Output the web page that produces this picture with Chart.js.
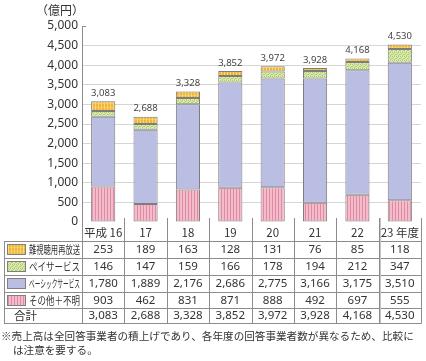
<!DOCTYPE html>
<html>
<head>
<meta charset="utf-8">
<script src="https://cdn.jsdelivr.net/npm/chart.js@4.4.0/dist/chart.umd.min.js"></script>
<style>
  html, body { margin: 0; padding: 0; background: #fff; }
  #wrap { width: 426px; height: 361px; position: relative; }
</style>
</head>
<body>
<div id="wrap"><canvas id="c" width="426" height="361"></canvas></div>
<script>
// ---- data ----
const categories = ['平成 16', '17', '18', '19', '20', '21', '22', '23 年度'];
const seriesNames = ['難視聴用再放送', 'ペイサービス', 'ベーシックサービス', 'その他＋不明'];
const rebroadcast = [253, 189, 163, 128, 131, 76, 85, 118];
const payService = [146, 147, 159, 166, 178, 194, 212, 347];
const basicService = [1780, 1889, 2176, 2686, 2775, 3166, 3175, 3510];
const otherUnknown = [903, 462, 831, 871, 888, 492, 697, 555];
const totals = [3083, 2688, 3328, 3852, 3972, 3928, 4168, 4530];
const totalRowLabel = '合計';
const unitLabel = '（億円）';
const noteLines = ['※売上高は全回答事業者の積上げであり、各年度の回答事業者数が異なるため、比較に', 'は注意を要する。'];

// ---- patterns ----
function makePattern(w, h, draw) {
  const c = document.createElement('canvas');
  c.width = w; c.height = h;
  const g = c.getContext('2d');
  draw(g);
  return g.createPattern(c, 'repeat');
}
const patOrange = makePattern(3, 4, g => {
  g.fillStyle = '#f0b436'; g.fillRect(0, 0, 3, 4);
  g.fillStyle = '#f9d67c'; g.fillRect(2, 0, 1, 4);
  g.fillStyle = '#f5c858'; g.fillRect(0, 3, 2, 1);
});
const patGreen = makePattern(4, 4, g => {
  g.fillStyle = '#dbeaae'; g.fillRect(0, 0, 4, 4);
  g.fillStyle = '#afcc74';
  g.fillRect(0, 0, 1, 1); g.fillRect(2, 0, 1, 1);
  g.fillRect(1, 1, 1, 1); g.fillRect(3, 2, 1, 1);
  g.fillRect(0, 2, 1, 1); g.fillRect(2, 3, 1, 1);
});
const colBlue = '#b9bee2';
const patPink = makePattern(3, 1, g => {
  g.fillStyle = '#f4bccb'; g.fillRect(0, 0, 3, 1);
  g.fillStyle = '#de8ca4'; g.fillRect(2, 0, 1, 1);
});

const seriesValues = [rebroadcast, payService, basicService, otherUnknown];
const seriesFills = [patOrange, patGreen, colBlue, patPink];

const FONT_LAT = '"Noto Sans", "Noto Sans CJK JP", sans-serif';
const FONT_JP = '"Noto Sans CJK JP", "Noto Sans", sans-serif';
const TXT = '#333';
const LINE = '#8c8c8c';

const tablePlugin = {
  id: 'tablePlugin',
  afterDraw(chart) {
    const ctx = chart.ctx;
    const xs = chart.scales.x, ys = chart.scales.y;
    const ca = chart.chartArea;
    const n = categories.length;
    const colW = (ca.right - ca.left) / n;
    const tableLeft = 4;
    const rowY = [241, 258, 275, 292, 308, 323];
    const headerTop = ca.bottom;
    ctx.save();

    // unit label
    ctx.fillStyle = TXT;
    ctx.font = '12px ' + FONT_JP;
    ctx.textAlign = 'right';
    ctx.textBaseline = 'middle';
    ctx.fillText(unitLabel, ca.left + 2, 10);

    // tick at top
    ctx.strokeStyle = LINE;
    ctx.lineWidth = 1;
    ctx.beginPath();
    ctx.moveTo(ca.left, Math.round(ca.top) + 0.5);
    ctx.lineTo(ca.left + 4, Math.round(ca.top) + 0.5);
    ctx.stroke();

    // totals above bars
    ctx.fillStyle = '#444';
    ctx.font = '9.5px ' + FONT_LAT;
    ctx.textAlign = 'center';
    ctx.textBaseline = 'middle';
    for (let i = 0; i < n; i++) {
      ctx.fillText(totals[i].toLocaleString('en-US'), xs.getPixelForValue(i), ys.getPixelForValue(totals[i]) - 8);
    }

    // table lines
    ctx.strokeStyle = LINE;
    ctx.beginPath();
    for (const y of rowY) {
      ctx.moveTo(tableLeft, y + 0.5);
      ctx.lineTo(ca.right + 0.5, y + 0.5);
    }
    ctx.moveTo(tableLeft + 0.5, rowY[0]);
    ctx.lineTo(tableLeft + 0.5, rowY[rowY.length - 1] + 0.5);
    ctx.moveTo(Math.round(ca.left) + 0.5, ca.bottom);
    ctx.lineTo(Math.round(ca.left) + 0.5, rowY[rowY.length - 1] + 0.5);
    for (let i = 1; i <= n; i++) {
      const x = Math.round(ca.left + colW * i) + 0.5;
      ctx.moveTo(x, headerTop - 4);
      ctx.lineTo(x, rowY[rowY.length - 1] + 0.5);
    }
    ctx.stroke();
    // doubled separator before the last column
    ctx.strokeStyle = '#c4c4c4';
    ctx.beginPath();
    const xd = Math.round(ca.left + colW * (n - 1)) + 1.5;
    ctx.moveTo(xd, headerTop - 4);
    ctx.lineTo(xd, rowY[rowY.length - 1]);
    ctx.stroke();

    // header labels
    ctx.fillStyle = TXT;
    ctx.font = '11.5px ' + FONT_JP;
    ctx.textAlign = 'center';
    ctx.textBaseline = 'middle';
    for (let i = 0; i < n; i++) {
      ctx.fillText(categories[i], xs.getPixelForValue(i), (headerTop + rowY[0]) / 2 + 1);
    }

    // series rows
    for (let s = 0; s < seriesNames.length; s++) {
      const yTop = rowY[s], yBot = rowY[s + 1];
      const cy = (yTop + yBot) / 2 + 0.5;
      ctx.fillStyle = seriesFills[s];
      ctx.fillRect(7, yTop + 3, 19, 11);
      ctx.strokeStyle = '#808080';
      ctx.strokeRect(7.5, yTop + 3.5, 18, 10);
      ctx.fillStyle = TXT;
      ctx.font = '11px ' + FONT_JP;
      ctx.textAlign = 'left';
      ctx.fillText(seriesNames[s], 29, cy, 51);
      ctx.font = '11.5px ' + FONT_LAT;
      ctx.textAlign = 'center';
      for (let i = 0; i < n; i++) {
        ctx.fillText(seriesValues[s][i].toLocaleString('en-US'), xs.getPixelForValue(i), cy);
      }
    }
    // total row
    {
      const cy = (rowY[4] + rowY[5]) / 2 + 0.5;
      ctx.fillStyle = TXT;
      ctx.font = '11.5px ' + FONT_JP;
      ctx.textAlign = 'left';
      ctx.fillText(totalRowLabel, 14, cy);
      ctx.font = '11.5px ' + FONT_LAT;
      ctx.textAlign = 'center';
      for (let i = 0; i < n; i++) {
        ctx.fillText(totals[i].toLocaleString('en-US'), xs.getPixelForValue(i), cy);
      }
    }

    // note
    ctx.fillStyle = TXT;
    ctx.font = '10.6px ' + FONT_JP;
    ctx.textAlign = 'left';
    ctx.fillText(noteLines[0], 1, 336, 422);
    ctx.fillText(noteLines[1], 13, 350);
    ctx.restore();
  }
};

const datasets = [];
[3, 2, 1, 0].forEach(s => {
  datasets.push({
    label: seriesNames[s],
    data: seriesValues[s],
    backgroundColor: seriesFills[s],
    borderColor: '#7d7d7d',
    borderWidth: 1,
    borderSkipped: false,
    barPercentage: 0.57,
    categoryPercentage: 1.0
  });
});

new Chart(document.getElementById('c'), {
  type: 'bar',
  data: { labels: categories, datasets },
  options: {
    responsive: false,
    animation: false,
    devicePixelRatio: 1,
    layout: { padding: { left: 0, right: 5, top: 26, bottom: 139 } },
    plugins: { legend: { display: false }, tooltip: { enabled: false } },
    scales: {
      x: { stacked: true, display: false, offset: true },
      y: {
        stacked: true,
        min: 0, max: 5000,
        afterFit(scale) { scale.width = 82; },
        ticks: {
          stepSize: 500,
          padding: 4,
          color: '#333',
          font: { size: 12, family: FONT_LAT },
          callback: v => v.toLocaleString('en-US')
        },
        grid: {
          drawTicks: false,
          color: ctx => (ctx.tick && (ctx.tick.value === 0 || ctx.tick.value === 5000)) ? 'rgba(0,0,0,0)' : '#d6d6d6'
        },
        border: { display: true, color: LINE }
      }
    }
  },
  plugins: [tablePlugin]
});
</script>
</body>
</html>
